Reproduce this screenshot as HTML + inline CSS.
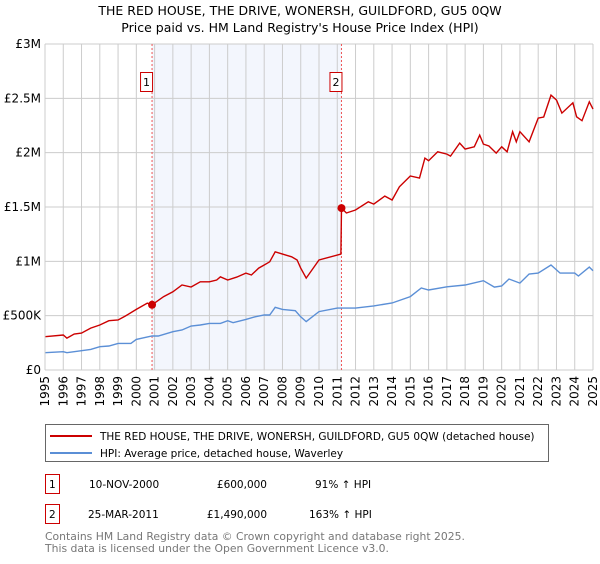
<!DOCTYPE html>
<html><head><meta charset="utf-8"><style>
body{margin:0;background:#fff;width:600px;height:560px;overflow:hidden;font-family:"DejaVu Sans","Liberation Sans",sans-serif;}
svg text{font-family:"DejaVu Sans","Liberation Sans",sans-serif;}
</style></head><body>
<svg id="c" width="600" height="560" xmlns="http://www.w3.org/2000/svg">
<text x="300" y="15" text-anchor="middle" font-size="12.5">THE RED HOUSE, THE DRIVE, WONERSH, GUILDFORD, GU5 0QW</text>
<text x="300" y="32" text-anchor="middle" font-size="12.5">Price paid vs. HM Land Registry's House Price Index (HPI)</text>
<g id="plot"></g>
<rect x="45.5" y="424.5" width="503" height="37" fill="none" stroke="#666"/>
<line x1="50" y1="436" x2="92" y2="436" stroke="#cc0000" stroke-width="2"/>
<text x="100" y="440" font-size="10.5">THE RED HOUSE, THE DRIVE, WONERSH, GUILDFORD, GU5 0QW (detached house)</text>
<line x1="50" y1="453" x2="92" y2="453" stroke="#5b8fd6" stroke-width="2"/>
<text x="100" y="457" font-size="10.5">HPI: Average price, detached house, Waverley</text>
<g font-size="10.5">
<rect x="45.5" y="474.5" width="14" height="19" fill="none" stroke="#cc0000"/>
<text x="49" y="488">1</text>
<text x="89" y="488">10-NOV-2000</text>
<text x="267" y="488" text-anchor="end">£600,000</text>
<text x="315" y="488">91% ↑ HPI</text>
<rect x="45.5" y="504.5" width="14" height="19" fill="none" stroke="#cc0000"/>
<text x="49" y="518">2</text>
<text x="88" y="518">25-MAR-2011</text>
<text x="267" y="518" text-anchor="end">£1,490,000</text>
<text x="309" y="518">163% ↑ HPI</text>
</g>
<text x="45" y="540" font-size="10.8" fill="#777">Contains HM Land Registry data © Crown copyright and database right 2025.</text>
<text x="45" y="552" font-size="10.8" fill="#777">This data is licensed under the Open Government Licence v3.0.</text>
</svg>
<script>
const hpiYears=[1995,1996,1996.2,1997,1997.5,1998,1998.5,1999,1999.7,2000,2000.86,2001.2,2002,2002.5,2003,2003.5,2004,2004.6,2005,2005.3,2006,2006.5,2007,2007.3,2007.6,2008,2008.7,2009,2009.3,2010,2011,2012,2013,2014,2015,2015.6,2016,2017,2018,2019,2019.6,2020,2020.4,2021,2021.5,2022,2022.7,2023.2,2024,2024.2,2024.8,2025];
const hpiValues=[159,168,159,178,190,214,221,245,245,282,313,313,352,368,405,414,429,429,454,435,466,490,506,506,577,558,546,490,445,537,570,570,590,617,675,755,736,766,782,822,763,773,837,800,883,892,966,892,892,865,947,914];
const redYears=[1995,1996,1996.2,1996.6,1997,1997.5,1998,1998.5,1999,1999.4,2000,2000.6,2000.86,2001.5,2002,2002.5,2003,2003.5,2004,2004.4,2004.6,2005,2005.5,2006,2006.3,2006.7,2007,2007.3,2007.6,2008,2008.5,2008.8,2009,2009.3,2010,2011.2,2011.23,2011.5,2012,2012.7,2013,2013.6,2014,2014.4,2015,2015.5,2015.8,2016,2016.5,2017,2017.2,2017.7,2018,2018.5,2018.8,2019,2019.3,2019.7,2020,2020.3,2020.6,2020.8,2021,2021.5,2022,2022.3,2022.7,2023,2023.3,2023.9,2024.1,2024.4,2024.8,2025];
const redValues=[306,322,294,331,340,386,414,454,460,497,558,616,600,675,720,782,764,812,812,828,858,828,855,892,874,938,966,996,1088,1067,1042,1012,938,846,1012,1067,1490,1445,1472,1548,1527,1600,1564,1686,1785,1766,1950,1926,2008,1987,1968,2088,2033,2054,2162,2079,2061,1996,2054,2008,2193,2100,2193,2100,2318,2328,2530,2484,2364,2459,2330,2294,2468,2401];
const saleYears=[2000.86,2011.23];
const saleValues=[600,1490];
const saleLabels=["1","2"];
const yTicks=[0,500,1000,1500,2000,2500,3000];
const yTickLabels=["£0","£500K","£1M","£1.5M","£2M","£2.5M","£3M"];
const xTicks=[];for(let y=1995;y<=2025;y++)xTicks.push(y);

const X0=45,X1=593,Y0=370,Y1=44;
const xs=v=>X0+(v-1995)/30*(X1-X0);
const ys=v=>Y0-v/3000*(Y0-Y1);
const NS="http://www.w3.org/2000/svg";
const g=document.getElementById('plot');
function mk(t,a){const e=document.createElementNS(NS,t);for(const k in a)e.setAttribute(k,a[k]);g.appendChild(e);return e;}
let e;
e=mk('rect',{x:xs(saleYears[0]),y:Y1,width:xs(saleYears[1])-xs(saleYears[0]),height:Y0-Y1,fill:'#f3f6fd'});


xTicks.forEach(t=>{
 e=mk('line',{x1:xs(t),x2:xs(t),y1:Y1,y2:Y0,stroke:'#ccc'});
 
 
 const tx=mk('text',{x:0,y:0,'font-size':12,'text-anchor':'end',transform:`translate(${xs(t)+4},${Y0+6}) rotate(-90)`});
 tx.textContent=t;
 
 
});
yTicks.forEach((t,i)=>{
 e=mk('line',{x1:X0,x2:X1,y1:ys(t),y2:ys(t),stroke:'#ccc'});
 
 
 const tx=mk('text',{x:X0-4,y:ys(t)+4,'font-size':12,'text-anchor':'end'});
 tx.textContent=yTickLabels[i];
 
 
});
saleYears.forEach((s,i)=>{
 e=mk('line',{x1:xs(s),x2:xs(s),y1:Y1,y2:Y0,stroke:'#e55','stroke-dasharray':'2,2'});
 
 
 e=mk('rect',{x:xs(s)-11.5,y:72.5,width:12,height:19,fill:'#fff',stroke:'#cc0000'});
 
 
 const tx=mk('text',{x:xs(s)-5.5,y:86,'font-size':11,'text-anchor':'middle'});
 tx.textContent=saleLabels[i];
 
 
});
function path(xa,va){return xa.map((x,i)=>(i?'L':'M')+xs(x).toFixed(1)+','+ys(va[i]).toFixed(1)).join('');}
e=mk('path',{d:path(hpiYears,hpiValues),fill:'none',stroke:'#5b8fd6','stroke-width':1.4});


e=mk('path',{d:path(redYears,redValues),fill:'none',stroke:'#cc0000','stroke-width':1.4});


saleYears.forEach((s,i)=>{
 e=mk('circle',{cx:xs(s),cy:ys(saleValues[i]),r:4,fill:'#cc0000'});
 
 
});
e=mk('line',{x1:X0,x2:X0,y1:Y1,y2:Y0,stroke:'#ccc'});


</script>
</body></html>
